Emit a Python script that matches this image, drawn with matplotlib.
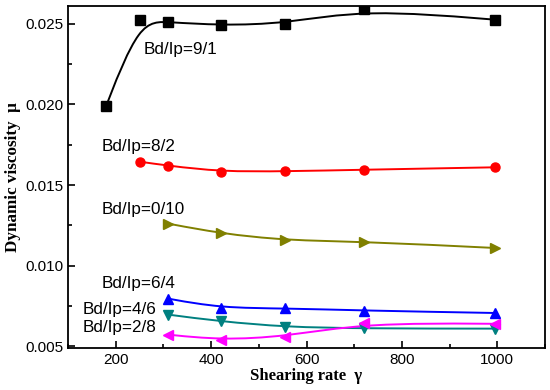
import numpy as np
import matplotlib
matplotlib.use("Agg")
import matplotlib.pyplot as plt
from matplotlib.path import Path
from matplotlib.patches import PathPatch
from matplotlib.ticker import MultipleLocator

# Data
x_91 = [180, 250, 310, 420, 555, 720, 995]
y_91 = [0.0199, 0.0252, 0.0251, 0.0249, 0.0250, 0.0259, 0.02525]
x_all = [310, 420, 555, 720, 995]
x_82 = [250, 310, 420, 555, 720, 995]
y_82 = [0.01645, 0.0162, 0.01583, 0.01585, 0.01595, 0.0161]
y_010 = [0.01261, 0.0120, 0.01157, 0.01149, 0.0111]
y_64 = [0.00796, 0.00738, 0.00736, 0.00722, 0.00707]
y_46 = [0.00697, 0.00655, 0.0062, 0.00611, 0.0061]
y_28 = [0.00573, 0.00540, 0.0056, 0.00645, 0.0064]

series = [
    ("Bd/Ip=9/1", x_91, y_91, "black", "s", (258, 0.0234)),
    ("Bd/Ip=8/2", x_82, y_82, "red", "o", (170, 0.01738)),
    ("Bd/Ip=0/10", x_all, y_010, "#808000", ">", (170, 0.01348)),
    ("Bd/Ip=6/4", x_all, y_64, "blue", "^", (170, 0.00889)),
    ("Bd/Ip=4/6", x_all, y_46, "#008080", "v", (131, 0.00728)),
    ("Bd/Ip=2/8", x_all, y_28, "#ff00ff", "<", (131, 0.00617)),
]

fig = plt.figure(figsize=(5.5, 3.9), dpi=100)
ax = fig.add_axes([0.1236, 0.1077, 0.8674, 0.877])


def smooth_path(xs, ys):
    # B-spline (uniform cubic) control polygon converted to Bezier segments,
    # with clamped ends so the curve starts/ends at the first/last point
    P = np.column_stack([xs, ys]).astype(float)
    P = np.vstack([P[0], P[0], P, P[-1], P[-1]])
    verts = []
    codes = []
    for i in range(len(P) - 3):
        p0, p1, p2, p3 = P[i], P[i + 1], P[i + 2], P[i + 3]
        b0 = (p0 + 4 * p1 + p2) / 6
        b1 = (2 * p1 + p2) / 3
        b2 = (p1 + 2 * p2) / 3
        b3 = (p1 + 4 * p2 + p3) / 6
        if not verts:
            verts.append(tuple(b0))
            codes.append(Path.MOVETO)
        verts += [tuple(b1), tuple(b2), tuple(b3)]
        codes += [Path.CURVE4] * 3
    return Path(verts, codes)


for label, xs, ys, color, marker, (tx, ty) in series:
    patch = PathPatch(smooth_path(xs, ys), facecolor="none", edgecolor=color,
                      lw=1.4, transform=ax.transData)
    ax.add_patch(patch)
    ax.plot(xs, ys, linestyle="none", marker=marker, color=color,
            markersize=6.5)
    ax.text(tx, ty, label, fontsize=12.3, family="Liberation Sans",
            ha="left", va="center")

ax.set_xlim(100, 1100)
ax.set_ylim(0.0049, 0.0261)
ax.xaxis.set_major_locator(MultipleLocator(200))
ax.xaxis.set_minor_locator(MultipleLocator(100))
ax.yaxis.set_major_locator(MultipleLocator(0.005))
ax.yaxis.set_minor_locator(MultipleLocator(0.0025))
ax.tick_params(which="both", direction="in", top=False, right=False,
               labelsize=11, width=1.2)
ax.tick_params(which="major", length=5)
ax.tick_params(which="minor", length=3)
ax.yaxis.set_major_formatter(matplotlib.ticker.FormatStrFormatter("%.3f"))
for lab in ax.get_xticklabels() + ax.get_yticklabels():
    lab.set_family("Liberation Sans")
for sp in ax.spines.values():
    sp.set_linewidth(1.3)

ax.set_xlabel("Shearing rate  γ", family="Liberation Serif", fontweight="bold",
              fontsize=12, labelpad=1)
ax.set_ylabel("Dynamic viscosity  μ", family="Liberation Serif",
              fontweight="bold", fontsize=12.3, labelpad=3)

fig.savefig("out.png", dpi=100)
